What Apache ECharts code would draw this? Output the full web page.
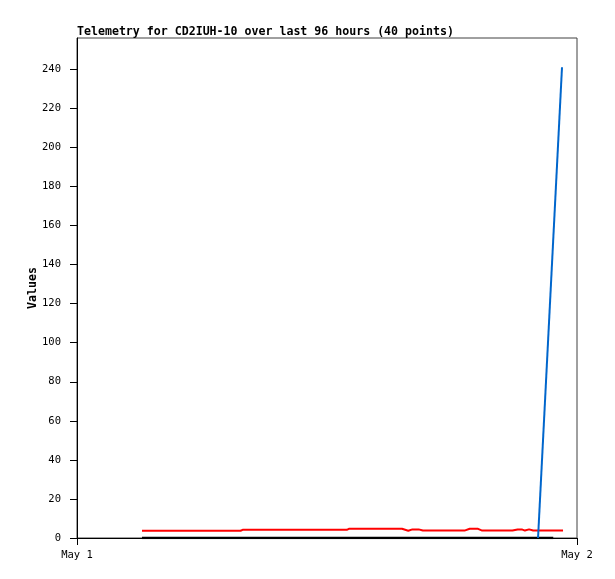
<!DOCTYPE html>
<html>
<head>
<meta charset="utf-8">
<script src="https://cdn.jsdelivr.net/npm/echarts@6/dist/echarts.min.js"></script>
<style>html,body{margin:0;padding:0;background:#fff;}#c{width:615px;height:579px;}</style>
</head>
<body>
<div id="c"></div>
<script>
// Hours since May 1 00:00
const xTickValues = [0, 24];
const xTickLabels = ['May 1', 'May 2'];
const yTickValues = [0, 20, 40, 60, 80, 100, 120, 140, 160, 180, 200, 220, 240];

const blackTimes = [3.12, 22.86];
const blackValues = [0, 0];

const redTimes = [3.12, 7.85, 7.95, 12.95, 13.05, 15.6, 15.9, 16.1, 16.4, 16.6, 18.6, 18.85, 19.25, 19.45, 20.9, 21.15, 21.35, 21.5, 21.7, 21.9, 23.33];
const redValues = [3.7, 3.7, 4.2, 4.2, 4.7, 4.7, 3.7, 4.4, 4.4, 3.8, 3.8, 4.7, 4.7, 3.8, 3.8, 4.4, 4.4, 3.8, 4.4, 3.8, 3.8];

const blueTimes = [22.13, 23.28];
const blueValues = [0, 241];

const zip = (t, v) => t.map((x, i) => [x, v[i]]);
const mono = 'DejaVu Sans Mono';

const chart = echarts.init(document.getElementById('c'), null, {renderer: 'canvas'});
chart.setOption({
  animation: false,
  backgroundColor: '#fff',
  title: {
    text: 'Telemetry for CD2IUH-10 over last 96 hours (40 points)',
    left: 77, top: 26, padding: 0,
    textStyle: {fontFamily: mono, fontSize: 11.6, fontWeight: 'bold', color: '#000'}
  },
  grid: {left: 77, right: 38, top: 38, bottom: 41, show: true, borderColor: '#404040', borderWidth: 1, backgroundColor: 'transparent'},
  xAxis: {
    type: 'value', min: 0, max: 24,
    axisLine: {show: true, lineStyle: {color: '#000', width: 1}},
    axisTick: {show: true, length: 7, customValues: xTickValues, lineStyle: {color: '#000'}},
    axisLabel: {customValues: xTickValues, margin: 12, fontFamily: mono, fontSize: 10.5, color: '#000',
      formatter: v => xTickLabels[xTickValues.indexOf(v)] || ''},
    splitLine: {show: false}
  },
  yAxis: {
    type: 'value', min: 0, max: 256,
    name: 'Values', nameLocation: 'middle', nameGap: 38, nameRotate: 90, nameMoveOverlap: false,
    nameTextStyle: {fontFamily: mono, fontSize: 11.6, fontWeight: 'bold', color: '#000'},
    axisLine: {show: true, lineStyle: {color: '#000', width: 1}},
    axisTick: {show: true, length: 7, customValues: yTickValues, lineStyle: {color: '#000'}},
    axisLabel: {customValues: yTickValues, margin: 16, fontFamily: mono, fontSize: 10.5, color: '#000'},
    splitLine: {show: false}
  },
  series: [
    {type: 'line', data: zip(blackTimes, blackValues), showSymbol: false, lineStyle: {color: '#000', width: 2.5}, z: 3},
    {type: 'line', data: zip(redTimes, redValues), showSymbol: false, lineStyle: {color: '#ff0000', width: 2}, z: 4},
    {type: 'line', data: zip(blueTimes, blueValues), showSymbol: false, lineStyle: {color: '#0066cc', width: 2}, z: 5}
  ]
});
</script>
</body>
</html>
